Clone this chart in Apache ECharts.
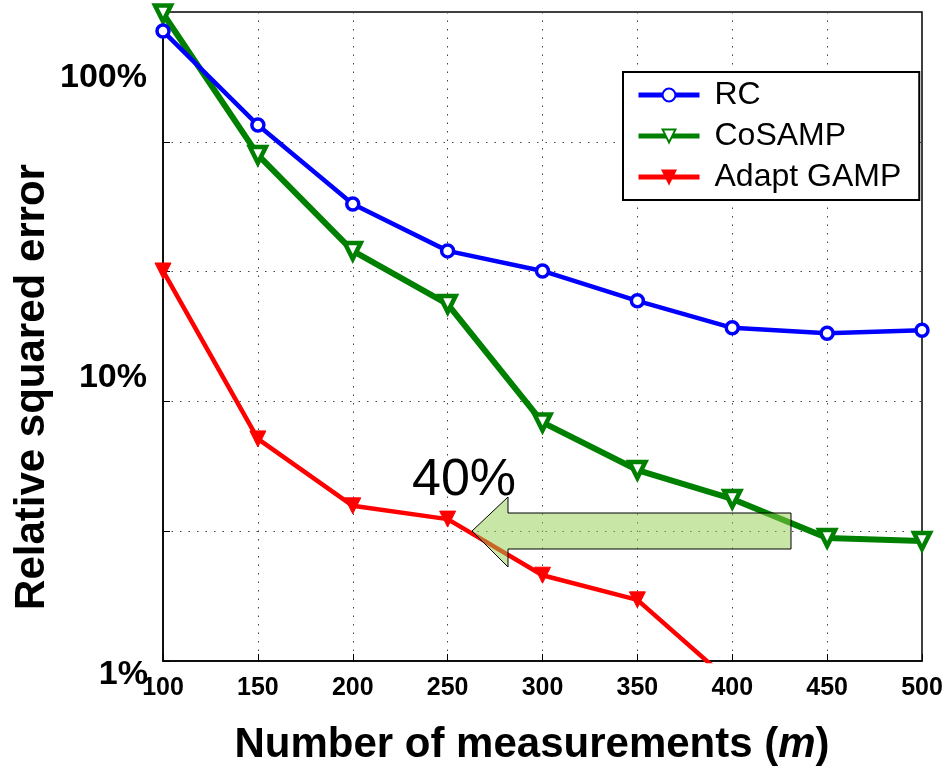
<!DOCTYPE html>
<html>
<head>
<meta charset="utf-8">
<script src="https://cdn.jsdelivr.net/npm/echarts@6/dist/echarts.min.js"></script>
<style>
  html, body { margin: 0; padding: 0; background: #fff; }
  #main { width: 946px; height: 770px; }
</style>
</head>
<body>
<div id="main"></div>
<script>
'use strict';
// measurements m
const mValues = [100, 150, 200, 250, 300, 350, 400, 450, 500];
// relative squared error in percent
const rcErr = [267, 116, 57.6, 38, 31.8, 24.4, 19.2, 18.3, 18.8];
const cosampErr = [312, 89, 38, 23.7, 8.3, 5.44, 4.21, 2.98, 2.9];
const gampErr = [31.8, 7.17, 3.96, 3.52, 2.14, 1.72, 0.82];
const seriesNames = ['RC', 'CoSAMP', 'Adapt GAMP'];
const yTickLabels = ['100%', '10%', '1%'];
const arrowLabel = '40%';

const FONT = '"Liberation Sans", Arial, Helvetica, sans-serif';

function pairs(ys) {
  return ys.map((v, i) => [mValues[i], v]);
}

let chart = echarts.init(document.getElementById('main'));

chart.setOption({
  animation: false,
  backgroundColor: '#fff',
  grid: {
    left: 163, top: 12, right: 24, bottom: 109,
    show: true, borderColor: '#000', borderWidth: 1.5
  },
  legend: {
    orient: 'vertical',
    left: 623, top: 72,
    padding: [7, 18, 7, 13],
    itemGap: 9,
    itemWidth: 61,
    itemHeight: 16,
    borderColor: '#000',
    borderWidth: 2,
    backgroundColor: '#fff',
    lineStyle: { width: 5 },
    textStyle: { fontFamily: FONT, fontSize: 32, color: '#000', padding: [0, 0, 0, 10] },
    data: seriesNames
  },
  xAxis: {
    type: 'value',
    min: 100, max: 500, interval: 50,
    axisLine: { show: true, lineStyle: { color: '#000', width: 1.5 } },
    axisTick: { inside: true, length: 7, lineStyle: { color: '#000' } },
    axisLabel: { fontFamily: FONT, fontSize: 25, fontWeight: 'bold', color: '#000', margin: 15 },
    splitLine: { show: true, lineStyle: { color: '#444', width: 1, type: [1.5, 7] } }
  },
  yAxis: {
    type: 'log',
    logBase: Math.sqrt(10),
    min: 1, max: 100 * Math.sqrt(10),
    interval: 1,
    axisLine: { show: true, lineStyle: { color: '#000', width: 1.5 } },
    axisTick: { show: true, inside: true, length: 7, lineStyle: { color: '#000' } },
    axisLabel: { show: false },
    splitLine: { show: true, lineStyle: { color: '#444', width: 1, type: [1.5, 7] } }
  },
  series: [
    {
      name: seriesNames[0], type: 'line',
      data: pairs(rcErr),
      color: '#0000ff',
      lineStyle: { width: 4.5, color: '#0000ff' },
      symbol: 'circle', symbolSize: 12,
      itemStyle: { color: '#fff', borderColor: '#0000ff', borderWidth: 3.5 },
      z: 3
    },
    {
      name: seriesNames[1], type: 'line',
      data: pairs(cosampErr),
      color: '#008000',
      lineStyle: { width: 6, color: '#008000' },
      symbol: 'triangle', symbolRotate: 180, symbolSize: 16,
      itemStyle: { color: '#fff', borderColor: '#008000', borderWidth: 4.5 },
      z: 2
    },
    {
      name: seriesNames[2], type: 'line',
      data: pairs(gampErr),
      color: '#ff0000',
      lineStyle: { width: 4.5, color: '#ff0000' },
      symbol: 'triangle', symbolRotate: 180, symbolSize: 16,
      itemStyle: { color: '#ff0000', borderColor: '#ff0000', borderWidth: 1 },
      z: 4
    }
  ],
  graphic: [
    // y tick labels, placed as in the original figure
    { type: 'text', x: 147, y: 78, z: 50,
      style: { text: yTickLabels[0], font: 'bold 34px ' + FONT, fill: '#000', align: 'right', verticalAlign: 'middle' } },
    { type: 'text', x: 147, y: 378, z: 50,
      style: { text: yTickLabels[1], font: 'bold 34px ' + FONT, fill: '#000', align: 'right', verticalAlign: 'middle' } },
    { type: 'text', x: 148, y: 675, z: 50,
      style: { text: yTickLabels[2], font: 'bold 34px ' + FONT, fill: '#000', align: 'right', verticalAlign: 'middle' } },
    // axis titles
    { type: 'text', x: 32, y: 387, rotation: Math.PI / 2, z: 50,
      style: { text: 'Relative squared error', font: 'bold 42px ' + FONT, fill: '#000', align: 'center', verticalAlign: 'middle' } },
    { type: 'text', x: 532, y: 745, z: 50,
      style: {
        text: '{b|Number of measurements (}{i|m}{b|)}',
        align: 'center', verticalAlign: 'middle',
        rich: {
          b: { font: 'bold 42px ' + FONT, fill: '#000' },
          i: { font: 'italic bold 42px ' + FONT, fill: '#000' }
        }
      } },
    // annotation arrow
    { type: 'polygon', z: 60,
      shape: { points: [[472, 531], [508, 497], [508, 513], [791, 513], [791, 549], [508, 549], [508, 567]] },
      style: { fill: 'rgba(146,208,80,0.5)', stroke: '#000', lineWidth: 1 } },
    { type: 'text', x: 464, y: 481, z: 60,
      style: { text: arrowLabel, font: '52px ' + FONT, fill: '#000', align: 'center', verticalAlign: 'middle' } }
  ]
});
</script>
</body>
</html>
